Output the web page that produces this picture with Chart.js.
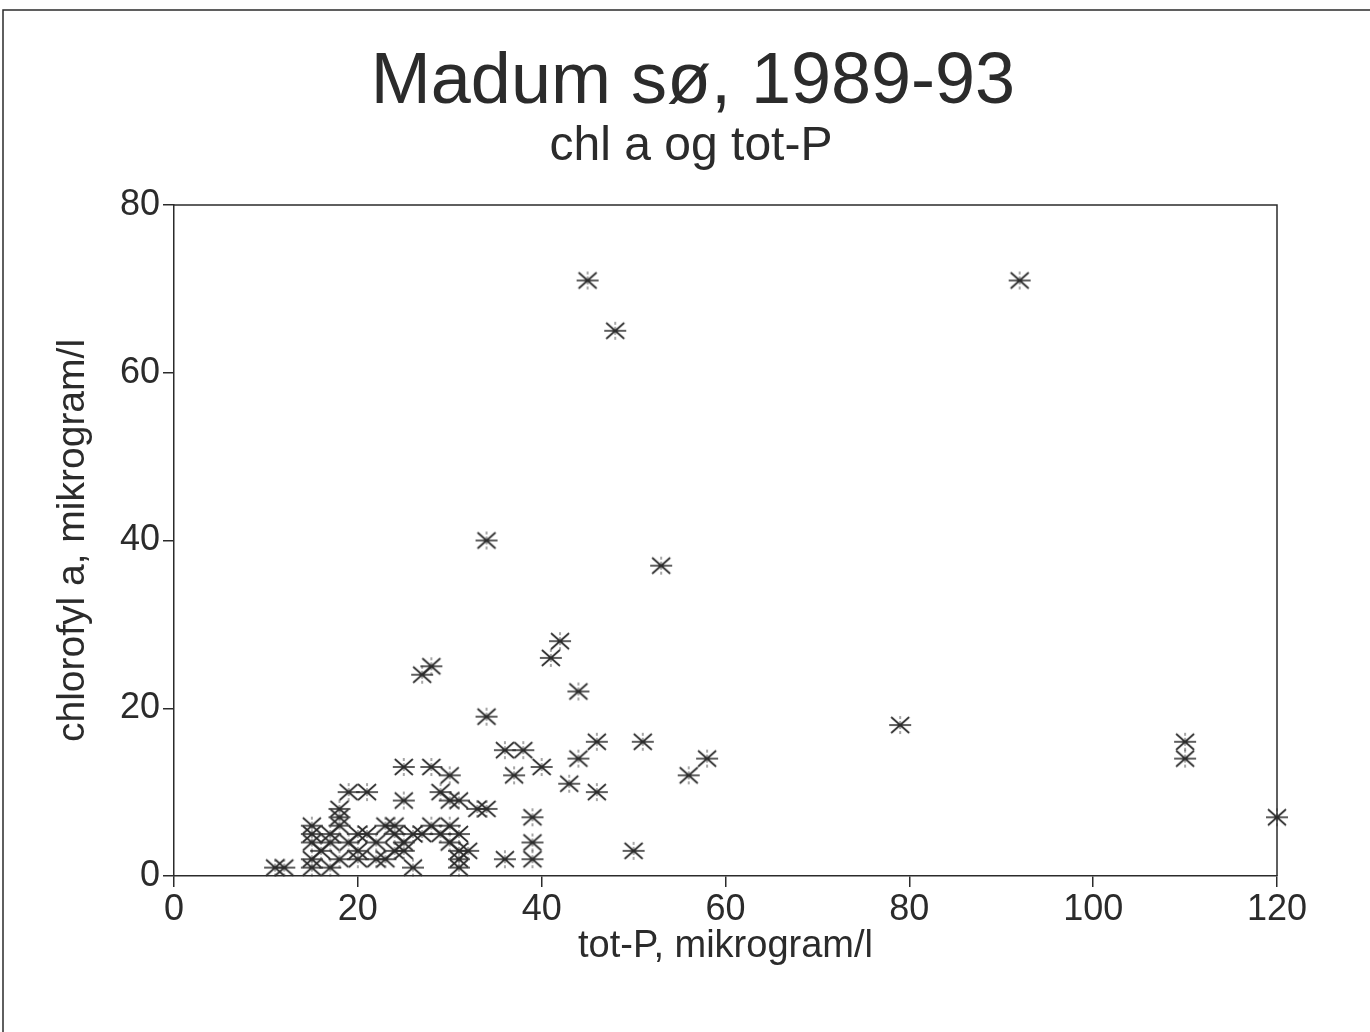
<!DOCTYPE html>
<html>
<head>
<meta charset="utf-8">
<script src="https://cdn.jsdelivr.net/npm/chart.js@4/dist/chart.umd.min.js"></script>
<style>
  html, body { margin: 0; padding: 0; background: #fff; }
  #wrap { position: relative; width: 1370px; height: 1032px; }
</style>
</head>
<body>
<div id="wrap"><canvas id="scatter"></canvas></div>
<script>
// tot-P (x) and chl a (y), microgram/l
const totP = [
  45, 92, 48, 34, 53, 42, 41, 28, 27, 44, 34, 79, 46, 51, 110, 110,
  36, 38, 44, 58, 40, 37, 56, 43, 46, 120, 39, 34, 33, 39, 39, 36, 50,
  25, 28, 30, 19, 21, 29, 25, 30, 31, 18, 18, 15, 15, 15, 15, 15, 16,
  17, 17, 18, 19, 20, 20, 20, 21, 22, 22, 23, 23, 24, 24, 25, 25, 26,
  26, 27, 28, 29, 30, 30, 31, 31, 31, 31, 32, 11, 12, 17, 18, 24
];
const chlA = [
  71, 71, 65, 40, 37, 28, 26, 25, 24, 22, 19, 18, 16, 16, 16, 14,
  15, 15, 14, 14, 13, 12, 12, 11, 10, 7, 7, 8, 8, 4, 2, 2, 3,
  13, 13, 12, 10, 10, 10, 9, 9, 9, 8, 6, 6, 5, 4, 2, 1, 3,
  5, 4, 2, 4, 5, 3, 2, 5, 4, 2, 6, 2, 6, 5, 4, 3, 5,
  1, 5, 6, 5, 6, 4, 5, 3, 2, 1, 3, 1, 1, 1, 7, 3
];
const xTicks = [0, 20, 40, 60, 80, 100, 120];
const yTicks = [0, 20, 40, 60, 80];
const titleText = "Madum sø, 1989-93";
const subtitleText = "chl a og tot-P";

const points = totP.map((x, i) => ({ x: x, y: chlA[i] }));
const ink = "#2b2b2b";
const face = "'Liberation Sans', Arial, sans-serif";

// asterisk marker like the plotter's symbol
function makeStar() {
  const cv = document.createElement("canvas");
  cv.width = 24;
  cv.height = 20;
  const c = cv.getContext("2d");
  c.strokeStyle = ink;
  c.lineWidth = 1.7;
  c.beginPath();
  c.moveTo(1, 10);  c.lineTo(23, 10);
  c.moveTo(3, 2);   c.lineTo(21, 18);
  c.moveTo(3, 18);  c.lineTo(21, 2);
  c.stroke();
  c.strokeStyle = "rgba(43,43,43,0.7)";
  c.lineWidth = 1.2;
  c.setLineDash([3, 2]);
  c.beginPath();
  c.moveTo(12, 1); c.lineTo(12, 19);
  c.stroke();
  return cv;
}

// page frame, titles and box around the plot area
const framePlugin = {
  id: "frame",
  beforeDraw(chart) {
    const c = chart.ctx;
    c.save();
    c.strokeStyle = ink;
    c.lineWidth = 1.5;
    c.beginPath();
    c.moveTo(3, 1032);
    c.lineTo(3, 10);
    c.lineTo(1370, 10);
    c.stroke();

    c.fillStyle = ink;
    c.textAlign = "center";
    c.textBaseline = "alphabetic";
    c.font = "72px " + face;
    c.fillText(titleText, 693, 103);
    c.font = "48px " + face;
    c.fillText(subtitleText, 691, 160);
    c.restore();
  },
  afterDatasetsDraw(chart) {
    const a = chart.chartArea;
    const c = chart.ctx;
    c.save();
    c.strokeStyle = ink;
    c.lineWidth = 1.5;
    c.beginPath();
    c.moveTo(a.left, a.top);
    c.lineTo(a.right, a.top);
    c.lineTo(a.right, a.bottom);
    c.stroke();
    c.restore();
  }
};

new Chart(document.getElementById("scatter"), {
  type: "scatter",
  data: {
    datasets: [{
      data: points,
      pointStyle: makeStar(),
      pointRadius: 11,
      clip: false
    }]
  },
  options: {
    responsive: true,
    maintainAspectRatio: false,
    animation: false,
    layout: { padding: { top: 205, right: 93, bottom: 0, left: 0 } },
    plugins: {
      legend: { display: false },
      tooltip: { enabled: false }
    },
    scales: {
      x: {
        type: "linear",
        min: 0,
        max: 120,
        afterBuildTicks: s => { s.ticks = xTicks.map(v => ({ value: v })); },
        afterFit: s => { s.height = 156; },
        ticks: { color: ink, font: { family: face, size: 36 }, padding: 1, maxRotation: 0 },
        grid: { drawOnChartArea: false, tickLength: 11, color: ink, lineWidth: 1.5 },
        border: { color: ink, width: 1.5 },
        title: {
          display: true,
          text: "tot-P, mikrogram/l",
          color: ink,
          font: { family: face, size: 38, lineHeight: 1 },
          padding: { top: 0, bottom: 66 }
        }
      },
      y: {
        type: "linear",
        min: 0,
        max: 80,
        afterBuildTicks: s => { s.ticks = yTicks.map(v => ({ value: v })); },
        afterFit: s => { s.width = 174; },
        ticks: { color: ink, font: { family: face, size: 36 }, padding: 3 },
        grid: { drawOnChartArea: false, tickLength: 11, color: ink, lineWidth: 1.5 },
        border: { color: ink, width: 1.5 },
        title: {
          display: true,
          text: "chlorofyl a, mikrogram/l",
          color: ink,
          font: { family: face, size: 39, lineHeight: 1 },
          padding: { top: 54, bottom: 0 }
        }
      }
    }
  },
  plugins: [framePlugin]
});
</script>
</body>
</html>
